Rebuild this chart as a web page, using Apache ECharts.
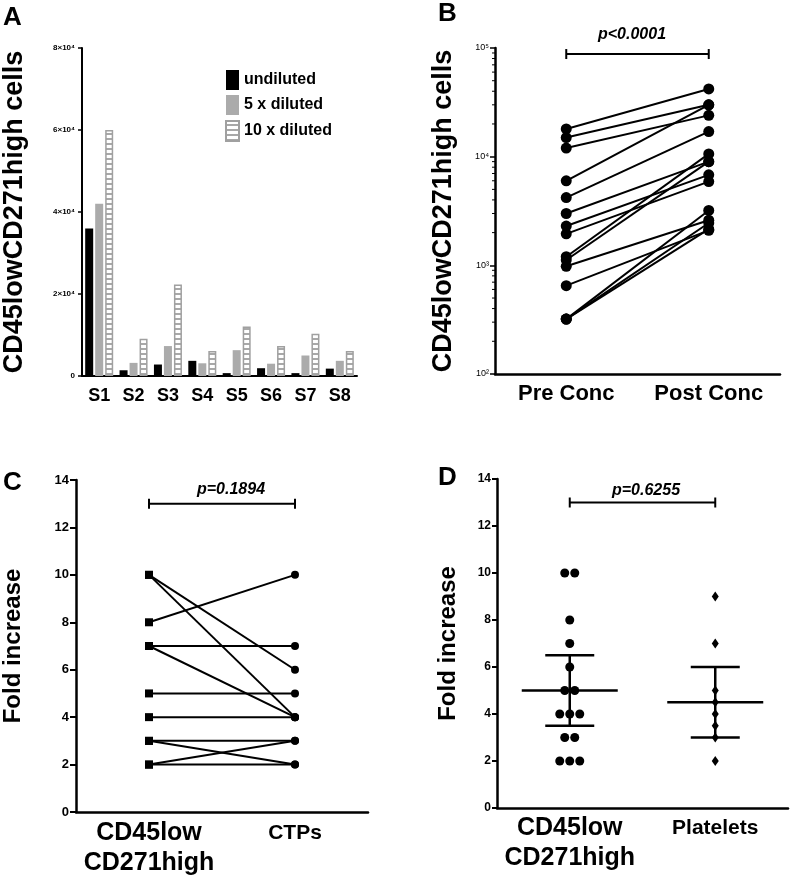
<!DOCTYPE html>
<html><head><meta charset="utf-8">
<script src="https://cdn.jsdelivr.net/npm/echarts@6/dist/echarts.min.js"></script>
<style>html,body{margin:0;padding:0;background:#fff}#c{width:791px;height:878px}</style>
</head><body><div id="c"></div>
<script>
// ---------- Panel A data ----------
const samplesA = ['S1','S2','S3','S4','S5','S6','S7','S8'];
const undiluted = [36000, 1400, 2800, 3700, 700, 1900, 700, 1800];
const diluted5  = [42000, 3200, 7300, 3100, 6300, 3000, 5000, 3700];
const diluted10 = [60000, 9100, 22300, 6100, 12100, 7300, 10300, 6100];
const tickValuesA = [0, 20000, 40000, 60000, 80000];
const tickLabelsA = ['0', '2×10⁴', '4×10⁴', '6×10⁴', '8×10⁴'];

// ---------- Panel B data ----------
const groupsB = ['Pre Conc', 'Post Conc'];
const preConc  = [18000, 15000, 12000, 6000, 4200, 3000, 2300, 1950, 1200, 1120, 980, 650, 320, 320, 320];
const postConc = [42000, 30000, 24000, 30000, 17000, 9000, 6800, 5900, 10600, 9000, 2600, 2100, 3200, 2450, 2150];
const tickValuesB = [100, 1000, 10000, 100000];
const tickLabelsB = ['10²', '10³', '10⁴', '10⁵'];
const pTextB = 'p<0.0001';
const bracketB = 88000;

// ---------- Panel C data ----------
const groupsC = ['CD45low\nCD271high', 'CTPs'];
const leftC  = [10, 10, 8, 7, 7, 5, 4, 3, 3, 2, 2];
const rightC = [4, 6, 10, 7, 4, 5, 4, 3, 2, 3, 2];
const pTextC = 'p=0.1894';
const bracketC = 13;

// ---------- Panel D data ----------
const groupsD = ['CD45low\nCD271high', 'Platelets'];
const leftD  = [10, 10, 8, 7, 6, 5, 5, 4, 4, 4, 3, 3, 2, 2, 2];
const rightD = [9, 7, 5, 4.5, 4, 3.5, 3, 2];
const centerD = [5, 4.5];
const lowerD  = [3.5, 3];
const upperD  = [6.5, 6];
const pTextD = 'p=0.6255';
const bracketD = 13;

// ---------- styling helpers ----------
const F = 'Liberation Sans';
const B = 700;
const axisLine = w => ({ show: true, lineStyle: { color: '#000', width: w } });

// hatch pattern for 10x diluted
const pc = document.createElement('canvas');
pc.width = 5; pc.height = 5;
const g = pc.getContext('2d');
g.fillStyle = '#fff'; g.fillRect(0, 0, 5, 5);
g.fillStyle = '#a8a8a8'; g.fillRect(0, 3, 5, 2);

// minor ticks on log axis (decade subdivisions)
const minorB = [];
for (let e = 2; e < 5; e++) for (let m = 2; m <= 9; m++) minorB.push(m * Math.pow(10, e));

// jitter offsets for repeated values (D)
function jitter(arr, step) {
  const counts = {}, seen = {};
  arr.forEach(v => counts[v] = (counts[v] || 0) + 1);
  return arr.map(v => { const i = seen[v] || 0; seen[v] = i + 1; return (i - (counts[v] - 1) / 2) * step; });
}
const offL = jitter(leftD, 10);

const catLabelRich = {
  b: { fontSize: 25, fontWeight: B, fontFamily: F, lineHeight: 30, color: '#000' },
  s: { fontSize: 21, fontWeight: B, fontFamily: F, lineHeight: 30, color: '#000' }
};
const catFormatter = v => v.includes('\n') ? v.split('\n').map(s => '{b|' + s + '}').join('\n') : '{s|' + v + '}';

const series = [];
// A bars
series.push({ name: 'undiluted', type: 'bar', xAxisIndex: 0, yAxisIndex: 0, data: undiluted, barWidth: 8, barGap: '25%', itemStyle: { color: '#000' } });
series.push({ name: '5 x diluted', type: 'bar', xAxisIndex: 0, yAxisIndex: 0, data: diluted5, barWidth: 8, barGap: '25%', itemStyle: { color: '#ababab' } });
series.push({ name: '10 x diluted', type: 'bar', xAxisIndex: 0, yAxisIndex: 0, data: diluted10, barWidth: 8, barGap: '25%', itemStyle: { color: { image: pc, repeat: 'repeat' }, borderColor: '#a0a0a0', borderWidth: 1.5 } });

// B paired lines
preConc.forEach((v, i) => series.push({
  type: 'line', xAxisIndex: 1, yAxisIndex: 1, data: [v, postConc[i]],
  symbol: 'circle', symbolSize: 11, itemStyle: { color: '#000', opacity: 1 }, lineStyle: { color: '#000', width: 2 }, silent: true, z: 3
}));
// B minor ticks
series.push({
  type: 'custom', xAxisIndex: 1, yAxisIndex: 1, data: minorB.map(v => [0, v]), silent: true, clip: false,
  encode: { x: 0, y: 1 },
  renderItem: (params, api) => {
    const p = api.coord([0, api.value(1)]);
    const x0 = params.coordSys.x;
    return { type: 'line', shape: { x1: x0 - 3, y1: p[1], x2: x0, y2: p[1] }, style: { stroke: '#000', lineWidth: 1 } };
  }
});
// brackets
function bracket(xi, yi, val) {
  return { type: 'line', xAxisIndex: xi, yAxisIndex: yi, data: [val, val], symbol: 'rect', symbolSize: [2, 10],
    itemStyle: { color: '#000' }, lineStyle: { color: '#000', width: 2 }, silent: true };
}
series.push(bracket(1, 1, bracketB));
series.push(bracket(2, 2, bracketC));
series.push(bracket(3, 3, bracketD));

// C paired lines
leftC.forEach((v, i) => series.push({
  type: 'line', xAxisIndex: 2, yAxisIndex: 2,
  data: [{ value: v, symbol: 'rect', symbolSize: 8 }, { value: rightC[i], symbol: 'circle', symbolSize: 8 }],
  itemStyle: { color: '#000', opacity: 1 }, lineStyle: { color: '#000', width: 2 }, silent: true
}));

// D scatter
series.push({
  type: 'scatter', xAxisIndex: 3, yAxisIndex: 3, symbol: 'circle', symbolSize: 9,
  data: leftD.map((v, i) => ({ value: [0, v], symbolOffset: [offL[i], 0] })),
  itemStyle: { color: '#000', opacity: 1 }, silent: true
});
series.push({
  type: 'scatter', xAxisIndex: 3, yAxisIndex: 3, symbol: 'diamond', symbolSize: [7, 10],
  data: rightD.map(v => [1, v]), itemStyle: { color: '#000', opacity: 1 }, silent: true
});
series.push({
  type: 'custom', xAxisIndex: 3, yAxisIndex: 3, silent: true, clip: false,
  data: centerD.map((c, i) => [i, c, lowerD[i], upperD[i]]),
  encode: { x: 0, y: [1, 2, 3] },
  renderItem: (params, api) => {
    const c = api.coord([api.value(0), api.value(1)]);
    const lo = api.coord([api.value(0), api.value(2)]);
    const hi = api.coord([api.value(0), api.value(3)]);
    const st = { stroke: '#000', lineWidth: 2.5 };
    return { type: 'group', children: [
      { type: 'line', shape: { x1: c[0] - 48, y1: c[1], x2: c[0] + 48, y2: c[1] }, style: st },
      { type: 'line', shape: { x1: c[0], y1: lo[1], x2: c[0], y2: hi[1] }, style: st },
      { type: 'line', shape: { x1: c[0] - 24.5, y1: lo[1], x2: c[0] + 24.5, y2: lo[1] }, style: st },
      { type: 'line', shape: { x1: c[0] - 24.5, y1: hi[1], x2: c[0] + 24.5, y2: hi[1] }, style: st }
    ] };
  }
});

const yName = (text, gap, size) => ({
  name: '{t|' + text + '}', nameLocation: 'middle', nameGap: gap,
  nameTextStyle: { fontSize: size, fontWeight: B, fontFamily: F, color: '#000',
    rich: { t: { fontSize: size, fontWeight: B, fontFamily: F, color: '#000' } } }
});

const option = {
  animation: false,
  backgroundColor: '#fff',
  grid: [
    { left: 76, top: 48, width: 281, height: 328 },
    { left: 495, top: 48, width: 285, height: 326 },
    { left: 76, top: 480, width: 292, height: 332 },
    { left: 497, top: 479, width: 291, height: 329 }
  ],
  legend: {
    data: ['undiluted', '5 x diluted', '10 x diluted'], orient: 'vertical', left: 220, top: 65,
    itemWidth: 13, itemHeight: 20, itemGap: 5, icon: 'rect',
    textStyle: { fontSize: 16, fontWeight: B, fontFamily: F, color: '#000' }
  },
  xAxis: [
    { gridIndex: 0, type: 'category', data: samplesA, axisLine: axisLine(2),
      axisTick: { alignWithLabel: true, length: 5, lineStyle: { color: '#000', width: 2 } },
      axisLabel: { interval: 0, fontSize: 18, fontWeight: B, fontFamily: F, color: '#000', margin: 11 } },
    { gridIndex: 1, type: 'category', data: groupsB, axisLine: axisLine(2.5),
      axisTick: { alignWithLabel: true, length: 5, lineStyle: { color: '#000', width: 2 } },
      axisLabel: { interval: 0, fontSize: 22, fontWeight: B, fontFamily: F, color: '#000', margin: 9 } },
    { gridIndex: 2, type: 'category', data: groupsC, axisLine: axisLine(2.5),
      axisTick: { alignWithLabel: true, length: 5, lineStyle: { color: '#000', width: 2 } },
      axisLabel: { interval: 0, fontWeight: B, formatter: catFormatter, rich: catLabelRich, margin: 6 } },
    { gridIndex: 3, type: 'category', data: groupsD, axisLine: axisLine(2.5),
      axisTick: { alignWithLabel: true, length: 5, lineStyle: { color: '#000', width: 2 } },
      axisLabel: { interval: 0, fontWeight: B, formatter: catFormatter, rich: catLabelRich, margin: 5 } }
  ],
  yAxis: [
    Object.assign({ gridIndex: 0, type: 'value', min: 0, max: 80000, interval: 20000, splitLine: { show: false },
      axisLine: axisLine(2), axisTick: { show: true, length: 4, lineStyle: { color: '#000', width: 1.5 } },
      axisLabel: { fontSize: 8, fontWeight: B, fontFamily: F, color: '#000', margin: 7,
        formatter: v => tickLabelsA[tickValuesA.indexOf(v)] } }, yName('CD45lowCD271high cells', 54, 27)),
    Object.assign({ gridIndex: 1, type: 'log', logBase: 10, min: 100, max: 100000, splitLine: { show: false },
      axisLine: axisLine(2.5), axisTick: { show: true, length: 5, lineStyle: { color: '#000', width: 1.5 } },
      axisLabel: { fontSize: 9, fontFamily: F, color: '#000', margin: 6,
        formatter: v => { const i = tickValuesB.findIndex(t => Math.abs(t - v) / t < 1e-6); return i >= 0 ? tickLabelsB[i] : ''; } } },
      yName('CD45lowCD271high cells', 38, 27)),
    Object.assign({ gridIndex: 2, type: 'value', min: 0, max: 14, interval: 2, splitLine: { show: false },
      axisLine: axisLine(2.5), axisTick: { show: true, length: 6, lineStyle: { color: '#000', width: 2 } },
      axisLabel: { fontSize: 13, fontWeight: B, fontFamily: F, color: '#000', margin: 7 } },
      yName('Fold increase', 51, 24)),
    Object.assign({ gridIndex: 3, type: 'value', min: 0, max: 14, interval: 2, splitLine: { show: false },
      axisLine: axisLine(2.5), axisTick: { show: true, length: 5, lineStyle: { color: '#000', width: 2 } },
      axisLabel: { fontSize: 12, fontWeight: B, fontFamily: F, color: '#000', margin: 6 } },
      yName('Fold increase', 37, 24))
  ],
  graphic: [
    { type: 'text', left: 3, top: 5, style: { text: 'A', font: 'bold 26px ' + F, fill: '#000' } },
    { type: 'text', left: 438, top: 1, style: { text: 'B', font: 'bold 26px ' + F, fill: '#000' } },
    { type: 'text', left: 3, top: 470, style: { text: 'C', font: 'bold 26px ' + F, fill: '#000' } },
    { type: 'text', left: 438, top: 465, style: { text: 'D', font: 'bold 26px ' + F, fill: '#000' } },
    { type: 'text', x: 632, y: 35, style: { text: pTextB, font: 'italic bold 16px ' + F, fill: '#000', textAlign: 'center', textVerticalAlign: 'middle' } },
    { type: 'text', x: 231, y: 490, style: { text: pTextC, font: 'italic bold 16px ' + F, fill: '#000', textAlign: 'center', textVerticalAlign: 'middle' } },
    { type: 'text', x: 646, y: 491, style: { text: pTextD, font: 'italic bold 16px ' + F, fill: '#000', textAlign: 'center', textVerticalAlign: 'middle' } }
  ],
  series: series
};
const chart = echarts.init(document.getElementById('c'), null, { renderer: 'canvas' });
chart.setOption(option);
</script></body></html>
